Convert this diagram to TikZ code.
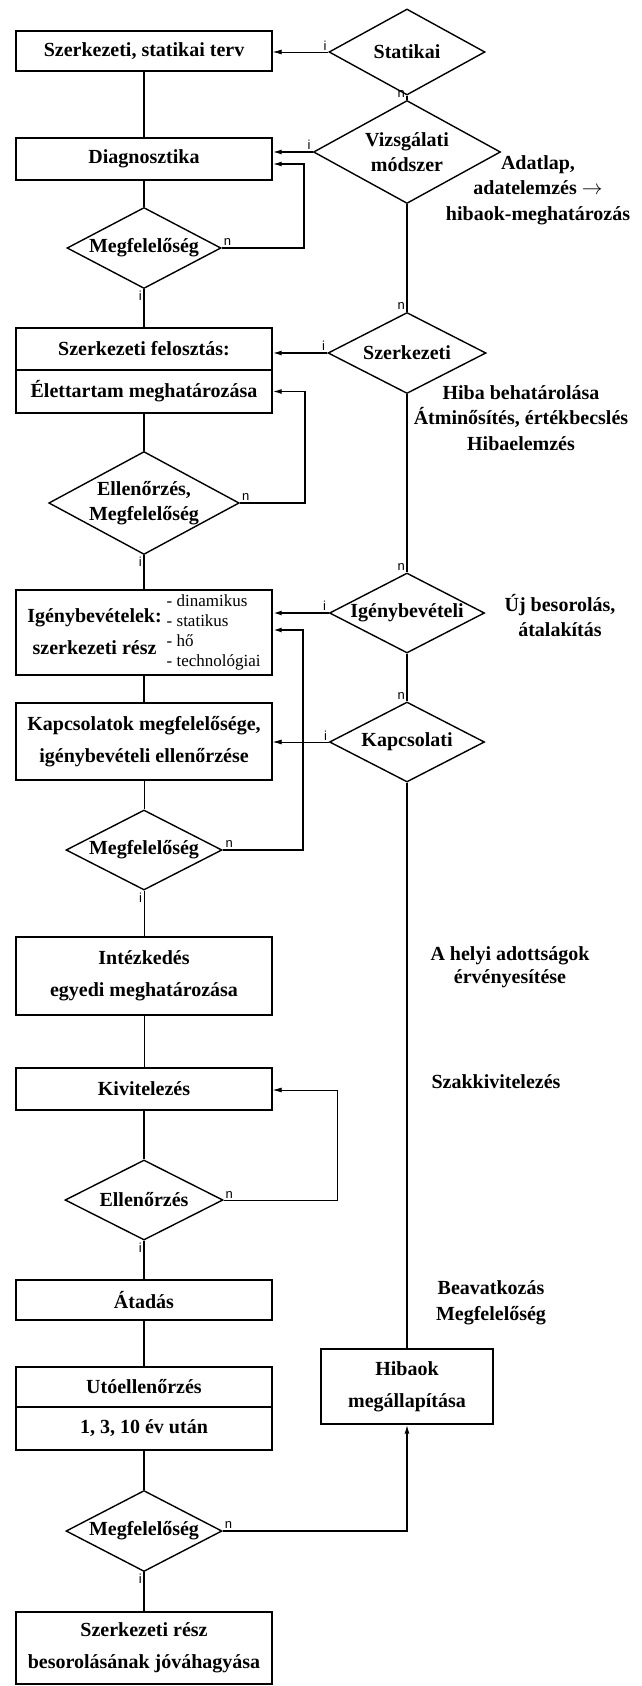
\documentclass[tikz,border=0pt]{standalone}
\usepackage{fontspec}
\setmainfont{Liberation Serif}
\setsansfont{Liberation Sans}
\usetikzlibrary{shapes.geometric,arrows.meta}

\begin{document}
\begin{tikzpicture}[x=1pt,y=-1pt,line width=1.4pt,
    >={Latex[length=9pt,width=5pt]},
    box/.style={draw,rectangle,inner sep=0pt,minimum width=256pt,align=center,
      font=\bfseries\fontsize{20}{32}\selectfont},
    dec/.style 2 args={draw,diamond,inner sep=0pt,shape aspect=2,
      minimum width=#1,minimum height=#2,align=center,
      font=\bfseries\fontsize{20}{25}\selectfont},
    note/.style={align=center,font=\bfseries\fontsize{20}{25.5}\selectfont},
    yn/.style={inner sep=1.5pt,font=\sffamily\fontsize{13}{13}\selectfont},
    heavy/.style={line width=2.6pt},
    faint/.style={line width=0.8pt}]
  \useasboundingbox (0,0) rectangle (641,1686);
  \fill[white] (0,0) rectangle (641,1686);

  % Nodes
  \node[box,minimum height=40pt] (b1) at (144,51) {Szerkezeti, statikai terv};
  \node[box,minimum height=42pt] (b2) at (144,159) {Diagnosztika};
  \node[dec={154pt}{81pt}] (d1) at (144,248) {Megfelelőség};
  \node[box,minimum height=42pt] (b3a) at (144,349) {Szerkezeti felosztás:};
  \node[box,minimum height=43pt] (b3b) at (144,391.5) {Élettartam meghatározása};
  \node[dec={190pt}{102pt},shape aspect=1.85] (d2) at (144,503) {Ellenőrzés,\\Megfelelőség};
  \node[box,minimum height=85pt] (b4) at (144,632.5) {%
    \begin{tabular}{@{}c@{}}Igénybevételek:\\szerkezeti rész\end{tabular}\hspace{5pt}%
    {\mdseries\fontsize{17}{20}\selectfont
    \begin{tabular}{@{}l@{}}- dinamikus\\- statikus\\- hő\\- technológiai\end{tabular}}};
  \node[box,minimum height=77pt] (b5) at (144,741.5) {Kapcsolatok megfelelősége,\\igénybevételi ellenőrzése};
  \node[dec={156pt}{80pt}] (d3) at (144,850) {Megfelelőség};
  \node[box,minimum height=78pt] (b6) at (144,976) {Intézkedés\\egyedi meghatározása};
  \node[box,minimum height=42pt] (b7) at (144,1089) {Kivitelezés};
  \node[dec={158pt}{80pt}] (d4) at (144,1200) {Ellenőrzés};
  \node[box,minimum height=40pt] (b8) at (144,1300) {Átadás};
  \node[box,minimum height=40pt] (b9a) at (144,1387) {Utóellenőrzés};
  \node[box,minimum height=43pt] (b9b) at (144,1428.5) {1, 3, 10 év után};
  \node[dec={156pt}{81pt}] (d5) at (144,1531) {Megfelelőség};
  \node[box,minimum height=72pt] (b10) at (144,1648) {Szerkezeti rész\\besorolásának jóváhagyása};

  \node[dec={156pt}{86pt}] (r1) at (407,52) {Statikai};
  \node[dec={187pt}{103pt}] (r2) at (407,152) {Vizsgálati\\módszer};
  \node[dec={158pt}{81pt}] (r3) at (407,353) {Szerkezeti};
  \node[dec={155pt}{80pt}] (r4) at (407,613) {Igénybevételi};
  \node[dec={155pt}{80pt}] (r5) at (407,742) {Kapcsolati};
  \node[box,minimum width=172pt,minimum height=75pt] (h1) at (407,1386.5) {Hibaok\\megállapítása};

  \node[note] (n1) at (538,190) {Adatlap,\\adatelemzés $\rightarrow$\\hibaok-meghatározás};
  \node[note] (n2) at (521,418) {Hiba behatárolása\\Átminősítés, értékbecslés\\Hibaelemzés};
  \node[note] (n3) at (560,615.5) {Új besorolás,\\átalakítás};
  \node[note,font=\bfseries\fontsize{20}{23}\selectfont] (n4) at (510,967.5) {A helyi adottságok\\érvényesítése};
  \node[note] (n5) at (496,1082) {Szakkivitelezés};
  \node[note] (n6) at (491,1302.5) {Beavatkozás\\Megfelelőség};

  \coordinate (l1) at (304,164);
  \coordinate (l2) at (305,391.5);
  \coordinate (l3) at (303,630);
  \coordinate (l4) at (337,1090);

  % Arrows
  \draw (b1) to (b2);
  \draw (b2) to (d1);
  \draw (d1) to node[yn,pos=0,anchor=north east] {i} (b3a);
  \draw (b3b) to (d2);
  \draw (d2) to node[yn,pos=0,anchor=north east] {i} (b4);
  \draw (b4) to (b5);
  \draw[faint] (b5) to (d3);
  \draw[faint] (d3) to node[yn,pos=0,anchor=north east] {i} (b6);
  \draw[faint] (b6) to (b7);
  \draw (b7) to (d4);
  \draw (d4) to node[yn,pos=0,anchor=north east] {i} (b8);
  \draw (b8) to (b9a);
  \draw (b9b) to (d5);
  \draw (d5) to node[yn,pos=0,anchor=north east] {i} (b10);

  \draw (r1) to node[yn,pos=1,anchor=south east] {n} (r2);
  \draw (r2) to node[yn,pos=1,anchor=south east] {n} (r3);
  \draw (r3) to node[yn,pos=1,anchor=south east] {n} (r4);
  \draw (r4) to node[yn,pos=1,anchor=south east] {n} (r5);
  \draw (r5) to (h1);

  \draw[->,faint] (r1.west) to node[yn,pos=0,anchor=south east] {i} (r1.west -| b1.east);
  \draw[->] (r2.west) to node[yn,pos=0,anchor=south east] {i} (r2.west -| b2.east);
  \draw[->] (r3.west) to node[yn,pos=0,anchor=south east] {i} (r3.west -| b3a.east);
  \draw[->,heavy] (r4.west) to node[yn,pos=0,anchor=south east] {i} (r4.west -| b4.east);
  \draw[->,faint] (r5.west) to node[yn,pos=0,anchor=south east] {i} (r5.west -| b5.east);

  \draw[->] (d1.east) node[yn,anchor=south west] {n} -| (l1) -- (l1 -| b2.east);
  \draw[->] (d2.east) node[yn,anchor=south west] {n} -| (l2) -- (b3b.east);
  \draw[->,heavy] (d3.east) node[yn,anchor=south west] {n} -| (l3) -- (l3 -| b4.east);
  \draw[->,faint] (d4.east) node[yn,anchor=south west] {n} -| (l4) -- (l4 -| b7.east);
  \draw[->] (d5.east) node[yn,anchor=south west] {n} -| (h1.south);
\end{tikzpicture}
\end{document}
